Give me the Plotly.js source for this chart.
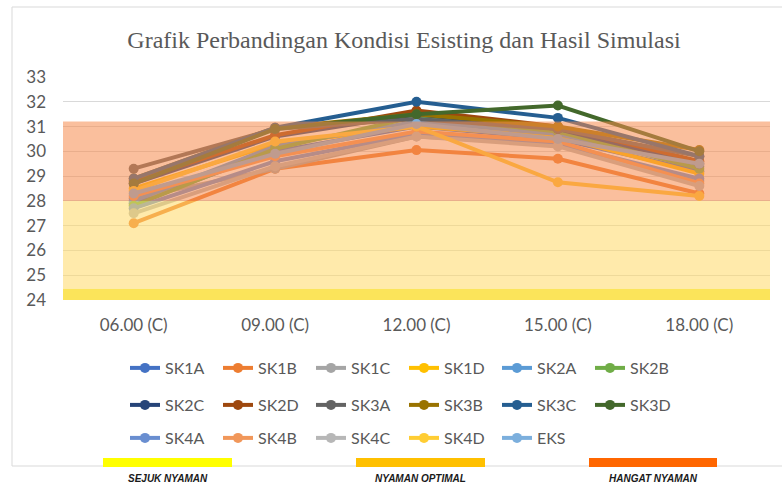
<!DOCTYPE html>
<html>
<head>
<meta charset="utf-8">
<script src="https://cdn.plot.ly/plotly-3.0.1.min.js"></script>
<style>html,body{margin:0;padding:0;background:#fff;}#chart{width:782px;height:484px;}</style>
</head>
<body>
<div id="chart"></div>
<script>
// ---- data ----
const categories = ["06.00 (C)", "09.00 (C)", "12.00 (C)", "15.00 (C)", "18.00 (C)"];
const seriesNames = ["SK1A","SK1B","SK1C","SK1D","SK2A","SK2B","SK2C","SK2D","SK3A","SK3B","SK3C","SK3D","SK4A","SK4B","SK4C","SK4D","EKS"];
const SK1A = [27.9, 30.0, 31.0, 30.5, 29.2];
const SK1B = [27.1, 29.3, 30.05, 29.7, 28.3];
const SK1C = [28.1, 29.3, 30.6, 30.3, 28.8];
const SK1D = [28.5, 30.3, 31.0, 30.6, 29.1];
const SK2A = [28.0, 30.2, 31.2, 30.7, 29.4];
const SK2B = [27.8, 30.1, 31.4, 30.8, 29.3];
const SK2C = [28.7, 30.6, 31.5, 30.9, 29.5];
const SK2D = [28.8, 30.65, 31.65, 31.0, 29.6];
const SK3A = [29.3, 30.9, 31.3, 30.9, 29.8];
const SK3B = [28.9, 30.95, 31.5, 31.0, 30.05];
const SK3C = [28.9, 30.95, 32.0, 31.35, 29.8];
const SK3D = [28.7, 30.9, 31.5, 31.85, 30.0];
const SK4A = [27.7, 29.6, 30.7, 30.3, 28.9];
const SK4B = [28.2, 29.8, 30.8, 30.4, 28.7];
const SK4C = [27.5, 29.4, 30.6, 30.2, 28.6];
const SK4D = [28.4, 30.4, 31.0, 28.75, 28.2];
const EKS  = [28.3, 29.9, 31.1, 30.5, 29.5];
const seriesValues = [SK1A,SK1B,SK1C,SK1D,SK2A,SK2B,SK2C,SK2D,SK3A,SK3B,SK3C,SK3D,SK4A,SK4B,SK4C,SK4D,EKS];
const seriesColors = ["#4472C4","#ED7D31","#A5A5A5","#FFC000","#5B9BD5","#70AD47","#264478","#9E480E","#636363","#997300","#255E91","#43682B","#698ED0","#F1975A","#B7B7B7","#FFCD33","#7CAFDD"];
// comfort zone bands (y ranges)
const bandLow  = [24.0, 24.45, 28.0];
const bandHigh = [24.45, 28.0, 31.2];
const bandColors = ["#FBE45A", "#FFD966", "#F58B4C"];
const bandOpacity = [1, 0.55, 0.55];
const zoneLabels = ["SEJUK NYAMAN", "NYAMAN OPTIMAL", "HANGAT NYAMAN"];
const zoneColors = ["#FFFF00", "#FFC000", "#FF6600"];
const yTicks = [24,25,26,27,28,29,30,31,32,33];

// ---- layout geometry ----
const W = 782, H = 484;
const M = {l: 63, r: 12, t: 77, b: 184};
const plotW = W - M.l - M.r, plotH = H - M.t - M.b;
const px2x = p => (p - M.l) / plotW;
const py2y = p => (H - M.b - p) / plotH;

const legendIds = ["legend", "legend2", "legend3"];
const traces = seriesNames.map((name, i) => ({
  type: "scatter",
  mode: "lines+markers",
  name: name,
  x: categories,
  y: seriesValues[i],
  line: {color: seriesColors[i], width: 4},
  marker: {color: seriesColors[i], size: 10},
  legend: legendIds[Math.floor(i / 6)],
  hoverinfo: "x+y+name"
}));

const shapes = bandLow.map((lo, i) => ({
  type: "rect", xref: "paper", yref: "y", x0: 0, x1: 1, y0: lo, y1: bandHigh[i],
  fillcolor: bandColors[i], opacity: bandOpacity[i], line: {width: 0}, layer: "above"
}));
// outer chart border
shapes.push({type: "rect", xref: "paper", yref: "paper", x0: px2x(12), x1: px2x(790), y0: py2y(466), y1: py2y(7),
  line: {color: "#D9D9D9", width: 1}, fillcolor: "rgba(0,0,0,0)", layer: "below"});
// zone bars at bottom
const barX = [[103, 232], [356, 485], [589, 717]];
zoneColors.forEach((c, i) => {
  shapes.push({type: "rect", xref: "paper", yref: "paper", x0: px2x(barX[i][0]), x1: px2x(barX[i][1]),
    y0: py2y(467), y1: py2y(458), fillcolor: c, line: {width: 0}, layer: "above"});
});

const annotations = zoneLabels.map((t, i) => ({
  text: "<b><i>" + t + "</i></b>", xref: "paper", yref: "paper",
  x: px2x((barX[i][0] + barX[i][1]) / 2), y: py2y(478), xanchor: "center", yanchor: "middle",
  showarrow: false, font: {family: "Liberation Sans, Arial", size: 10, color: "#1a1a1a"}
}));

const legendBase = {orientation: "h", xref: "container", yref: "container", x: 125 / W, xanchor: "left", yanchor: "middle",
  font: {family: "Lato, sans-serif", size: 16, color: "#595959"}, entrywidth: 48, bgcolor: "rgba(0,0,0,0)", itemclick: false};

const layout = {
  width: W, height: H,
  margin: M,
  paper_bgcolor: "#ffffff", plot_bgcolor: "#ffffff",
  title: {text: "Grafik Perbandingan Kondisi Esisting dan Hasil Simulasi", x: 404 / W, xanchor: "center", xref: "container",
    y: 1 - 40 / H, yanchor: "middle", yref: "container",
    font: {family: "Liberation Serif, Times New Roman, serif", size: 24, color: "#595959"}},
  xaxis: {type: "category", range: [-0.5, 4.5], showgrid: false, zeroline: false, showline: false, ticks: "",
    tickfont: {family: "Lato, sans-serif", size: 17, color: "#595959"}, ticklabelstandoff: 13, fixedrange: true},
  yaxis: {range: [24, 33], tickvals: yTicks, showgrid: true, gridcolor: "#D9D9D9", gridwidth: 1, zeroline: false, showline: false,
    ticks: "", tickfont: {family: "Lato, sans-serif", size: 17, color: "#595959"}, ticklabelstandoff: 16, fixedrange: true},
  showlegend: true,
  legend: Object.assign({}, legendBase, {y: 1 - 368 / H}),
  legend2: Object.assign({}, legendBase, {y: 1 - 405 / H}),
  legend3: Object.assign({}, legendBase, {y: 1 - 438 / H}),
  shapes: shapes,
  annotations: annotations
};

Plotly.newPlot("chart", traces, layout, {displayModeBar: false, staticPlot: true});
</script>
</body>
</html>
